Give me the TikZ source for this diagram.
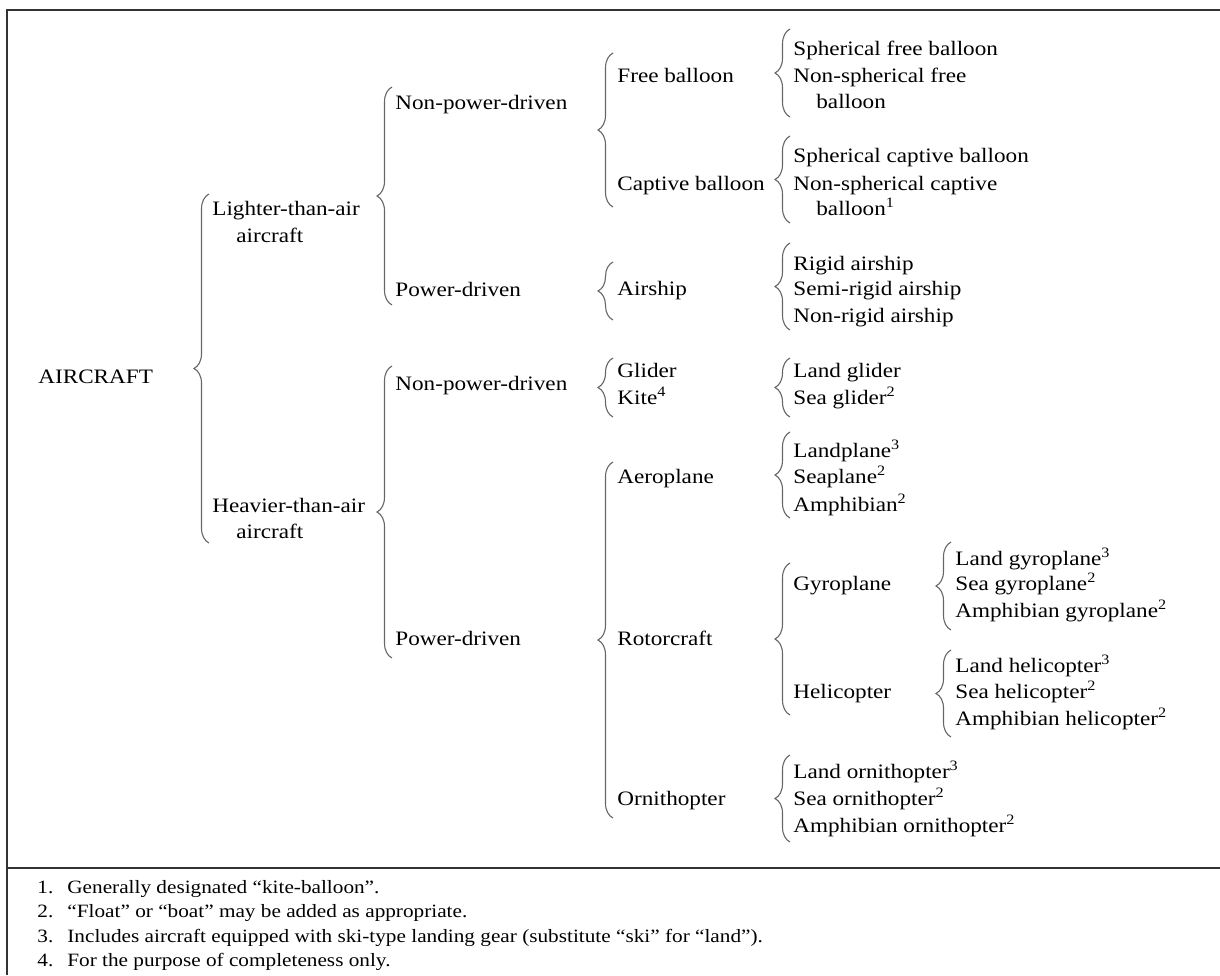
\documentclass[tikz,border=0pt]{standalone}
\usepackage{fontspec}
\setmainfont{Liberation Serif}[FakeStretch=1.13]
\usetikzlibrary{decorations.pathreplacing}

\begin{document}
\begin{tikzpicture}[x=0.5pt, y=-0.5pt,
    every node/.style={inner sep=0pt},
    item/.style={anchor=base west, font=\fontsize{10.25}{13}\selectfont},
    note/.style={anchor=base west, font=\fontsize{9.4}{12}\selectfont},
    brc/.style={decorate, decoration={brace, amplitude=7.5pt}, draw=black!60, line width=0.55pt},
    frame/.style={draw=black!80, line width=1pt}]
    \useasboundingbox (0,0) rectangle (1220,975);

    % frame and divider
    \draw[frame] (1220,10) -- (7,10) -- (7,975);
    \draw[frame] (7,868) -- (1220,868);

    % first levels
    \node[item] (aircraft) at (38,383) {AIRCRAFT};
    \node[item] (lta) at (212,215) {Lighter-than-air};
    \node[item] (ltab) at (236,242) {aircraft};
    \node[item] (hta) at (212,512) {Heavier-than-air};
    \node[item] (htab) at (236,538) {aircraft};
    \node[item] (npd1) at (395,109) {Non-power-driven};
    \node[item] (pd1) at (395,296) {Power-driven};
    \node[item] (npd2) at (395,390) {Non-power-driven};
    \node[item] (pd2) at (395,645) {Power-driven};

    % kinds
    \node[item] (free) at (617,82) {Free balloon};
    \node[item] (captive) at (617,190) {Captive balloon};
    \node[item] (airship) at (617,295) {Airship};
    \node[item] (glider) at (617,377) {Glider};
    \node[item] (kite) at (617,404) {Kite\textsuperscript{4}};
    \node[item] (aeroplane) at (617,483) {Aeroplane};
    \node[item] (rotor) at (617,645) {Rotorcraft};
    \node[item] (ornith) at (617,805) {Ornithopter};

    % sub kinds
    \node[item] (sfb) at (793,55) {Spherical free balloon};
    \node[item] (nsfb) at (793,82) {Non-spherical free};
    \node[item] (nsfbb) at (816,108) {balloon};
    \node[item] (scb) at (793,162) {Spherical captive balloon};
    \node[item] (nscb) at (793,190) {Non-spherical captive};
    \node[item] (nscbb) at (816,215) {balloon\textsuperscript{1}};
    \node[item] (rigid) at (793,270) {Rigid airship};
    \node[item] (semirigid) at (793,295) {Semi-rigid airship};
    \node[item] (nonrigid) at (793,322) {Non-rigid airship};
    \node[item] (landgl) at (793,377) {Land glider};
    \node[item] (seagl) at (793,404) {Sea glider\textsuperscript{2}};
    \node[item] (landpl) at (793,457) {Landplane\textsuperscript{3}};
    \node[item] (seapl) at (793,483) {Seaplane\textsuperscript{2}};
    \node[item] (amph) at (793,511) {Amphibian\textsuperscript{2}};
    \node[item] (gyro) at (793,590) {Gyroplane};
    \node[item] (heli) at (793,698) {Helicopter};
    \node[item] (landorn) at (793,778) {Land ornithopter\textsuperscript{3}};
    \node[item] (seaorn) at (793,805) {Sea ornithopter\textsuperscript{2}};
    \node[item] (amphorn) at (793,832) {Amphibian ornithopter\textsuperscript{2}};
    \node[item] (landgyro) at (955,565) {Land gyroplane\textsuperscript{3}};
    \node[item] (seagyro) at (955,590) {Sea gyroplane\textsuperscript{2}};
    \node[item] (amphgyro) at (955,617) {Amphibian gyroplane\textsuperscript{2}};
    \node[item] (landheli) at (955,672) {Land helicopter\textsuperscript{3}};
    \node[item] (seaheli) at (955,698) {Sea helicopter\textsuperscript{2}};
    \node[item] (amphheli) at (955,725) {Amphibian helicopter\textsuperscript{2}};

    % braces: x / top / bottom
    \foreach \bx/\bt/\bb in {209/194/543, 392/87/305, 392/366/658,
        613/53/207, 613/262/320, 613/358/417, 613/462/818,
        790/29/117, 790/136/223, 790/243/330, 790/358/417,
        790/432/518, 790/563/715, 790/755/842, 951/542/630, 951/650/737}
        \draw[brc] (\bx,\bb) -- (\bx,\bt);

    % notes
    \node[note] (n1) at (37,893) {\makebox[15pt][l]{1.}Generally designated “kite-balloon”.};
    \node[note] (n2) at (37,917) {\makebox[15pt][l]{2.}“Float” or “boat” may be added as appropriate.};
    \node[note] (n3) at (37,942) {\makebox[15pt][l]{3.}Includes aircraft equipped with ski-type landing gear (substitute “ski” for “land”).};
    \node[note] (n4) at (37,966) {\makebox[15pt][l]{4.}For the purpose of completeness only.};
\end{tikzpicture}
\end{document}
